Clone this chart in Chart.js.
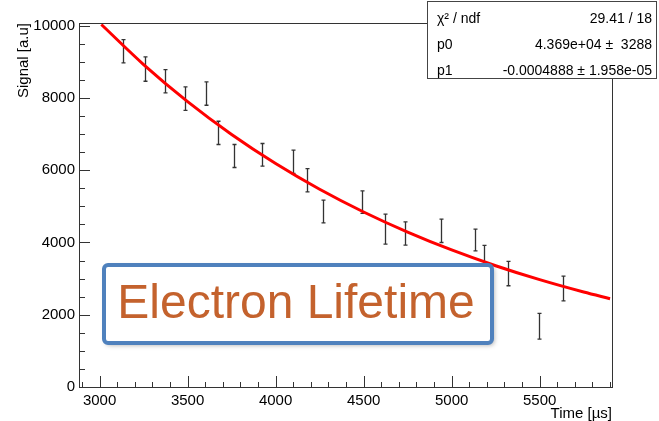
<!DOCTYPE html>
<html>
<head>
<meta charset="utf-8">
<script src="https://cdn.jsdelivr.net/npm/chart.js@4.4.0/dist/chart.umd.min.js"></script>
<style>
  html, body { margin: 0; padding: 0; background: #fff; }
</style>
</head>
<body>
<canvas id="chart" width="659" height="421"></canvas>
<script>
// measured points (drift time vs. signal) with their errors
const timeUs = [3134, 3257, 3371, 3486, 3602, 3670, 3763, 3922, 4096, 4179,
                4270, 4488, 4620, 4734, 4942, 5131, 5184, 5319, 5498, 5634];
const signal = [9290, 8796, 8461, 7980, 8119, 7032, 6392, 6424, 6230, 5722,
                4856, 5115, 4368, 4248, 4322, 4068, 3600, 3138, 1682, 2727];
const signalErr = [323, 336, 323, 323, 323, 322, 318, 314, 323, 323,
                   314, 313, 415, 323, 323, 300, 320, 337, 355, 342];

// fitted exponential
const fitTime = [3010, 3250, 3500, 3750, 4000, 4250, 4500, 4750, 5000, 5250, 5500, 5750, 5900];
const fitSignal = [10030, 8923, 7897, 6988, 6184, 5473, 4843, 4286, 3792, 3356, 2970, 2628, 2444];

const xTickLabels = [3000, 3500, 4000, 4500, 5000, 5500];
const yTickLabels = [0, 2000, 4000, 6000, 8000, 10000];

const statsRows = [
  ['\u03c7\u00b2 / ndf', '29.41 / 18'],
  ['p0', '4.369e+04 \u00b1  3288'],
  ['p1', '-0.0004888 \u00b1 1.958e-05']
];
const bannerText = 'Electron Lifetime';

const FONT = '"Liberation Sans", Arial, Helvetica, sans-serif';

// error bars go under the fit line
const errorBars = {
  id: 'errorBars',
  beforeDatasetsDraw(chart) {
    const {ctx, scales: {x, y}} = chart;
    ctx.save();
    ctx.strokeStyle = '#333';
    ctx.lineWidth = 1.3;
    ctx.beginPath();
    timeUs.forEach((t, i) => {
      const px = Math.round(x.getPixelForValue(t)) + 0.5;
      const top = y.getPixelForValue(signal[i] + signalErr[i]);
      const bot = y.getPixelForValue(signal[i] - signalErr[i]);
      ctx.moveTo(px, top); ctx.lineTo(px, bot);
      ctx.moveTo(px - 2, top); ctx.lineTo(px + 2, top);
      ctx.moveTo(px - 2, bot); ctx.lineTo(px + 2, bot);
    });
    ctx.stroke();
    ctx.restore();
  }
};

// ROOT style frame with inward ticks
const rootFrame = {
  id: 'rootFrame',
  afterDatasetsDraw(chart) {
    const {ctx, chartArea: a, scales: {x, y}} = chart;
    ctx.save();
    ctx.strokeStyle = '#333';
    ctx.lineWidth = 1;
    ctx.beginPath();
    for (let v = 2900; v <= 5900; v += 100) {
      const px = Math.round(x.getPixelForValue(v)) + 0.5;
      const len = v % 500 === 0 ? 11 : 5;
      ctx.moveTo(px, a.bottom); ctx.lineTo(px, a.bottom - len);
    }
    for (let v = 0; v <= 10000; v += 500) {
      const py = Math.round(y.getPixelForValue(v)) + 0.5;
      const len = v % 2000 === 0 ? 11 : 6;
      ctx.moveTo(a.left, py); ctx.lineTo(a.left + len, py);
    }
    ctx.stroke();
    ctx.strokeRect(Math.round(a.left) + 0.5, Math.round(a.top) + 0.5,
                   Math.round(a.right - a.left), Math.round(a.bottom - a.top));
    ctx.restore();
  },
  afterDraw(chart) {
    const ctx = chart.ctx;
    ctx.save();

    // stats box
    ctx.fillStyle = '#fff';
    ctx.fillRect(427, 1, 230, 78);
    ctx.strokeStyle = '#444';
    ctx.lineWidth = 1;
    ctx.strokeRect(427.5, 1.5, 229, 77);
    ctx.fillStyle = '#000';
    ctx.font = '14px ' + FONT;
    ctx.textBaseline = 'middle';
    statsRows.forEach((row, i) => {
      const ry = 19 + i * 26;
      ctx.textAlign = 'left';
      ctx.fillText(row[0], 437, ry);
      ctx.textAlign = 'right';
      ctx.fillText(row[1], 652, ry);
    });

    // banner
    ctx.shadowColor = 'rgba(0,0,0,0.35)';
    ctx.shadowBlur = 5;
    ctx.shadowOffsetX = 2;
    ctx.shadowOffsetY = 2;
    ctx.fillStyle = '#fff';
    ctx.beginPath();
    ctx.roundRect(104, 265, 388, 78, 4);
    ctx.fill();
    ctx.shadowColor = 'transparent';
    ctx.strokeStyle = '#4f81bd';
    ctx.lineWidth = 4;
    ctx.stroke();
    ctx.fillStyle = '#c4622d';
    ctx.font = '48px ' + FONT;
    ctx.textAlign = 'center';
    ctx.textBaseline = 'middle';
    ctx.fillText(bannerText, 296, 305);
    ctx.restore();
  }
};

new Chart(document.getElementById('chart'), {
  type: 'scatter',
  data: {
    datasets: [
      {
        label: 'data',
        data: timeUs.map((t, i) => ({x: t, y: signal[i]})),
        pointRadius: 0,
        showLine: false
      },
      {
        label: 'fit',
        data: fitTime.map((t, i) => ({x: t, y: fitSignal[i]})),
        showLine: true,
        borderColor: '#ff0000',
        borderWidth: 3,
        pointRadius: 0,
        cubicInterpolationMode: 'monotone'
      }
    ]
  },
  options: {
    responsive: false,
    animation: false,
    layout: {padding: {left: 0, top: 23, right: 47, bottom: 0}},
    plugins: {legend: {display: false}, tooltip: {enabled: false}},
    scales: {
      x: {
        type: 'linear',
        min: 2883,
        max: 5911,
        grid: {display: false, drawTicks: false},
        border: {display: false},
        afterBuildTicks: s => { s.ticks = xTickLabels.map(v => ({value: v})); },
        afterFit: s => { s.height = 34; },
        ticks: {
          color: '#000',
          padding: 5,
          maxRotation: 0,
          font: {family: FONT, size: 15},
          callback: v => String(v)
        },
        title: {
          display: true,
          text: 'Time [\u00b5s]',
          align: 'end',
          color: '#000',
          padding: {top: 0, bottom: -2},
          font: {family: FONT, size: 15}
        }
      },
      y: {
        type: 'linear',
        min: 0,
        max: 10072,
        grid: {display: false, drawTicks: false},
        border: {display: false},
        afterBuildTicks: s => { s.ticks = yTickLabels.map(v => ({value: v})); },
        afterFit: s => { s.width = 79; },
        ticks: {
          color: '#000',
          padding: 4,
          font: {family: FONT, size: 15},
          callback: v => String(v)
        },
        title: {
          display: true,
          text: 'Signal [a.u]',
          align: 'end',
          color: '#000',
          padding: {top: 15, bottom: 0},
          font: {family: FONT, size: 15}
        }
      }
    }
  },
  plugins: [errorBars, rootFrame]
});
</script>
</body>
</html>
